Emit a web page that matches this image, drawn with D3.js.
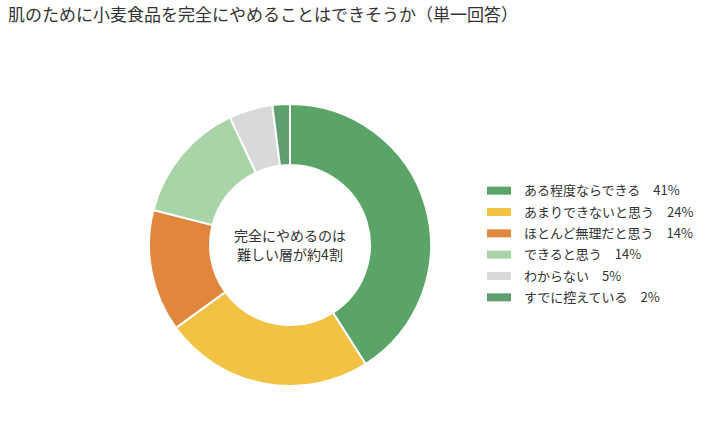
<!DOCTYPE html>
<html>
<head>
<meta charset="utf-8">
<title>小麦食品アンケート</title>
<style>
    body { margin: 0; background: #fff; }
    svg text { font-family: "Noto Sans CJK JP", "Noto Sans", sans-serif; fill: #333; }
    .chart-title { font-size: 17px; }
    .center-label { font-size: 14px; }
    .legend text { font-size: 13px; }
</style>
</head>
<body>
<div id="chart"></div>
<script src="https://d3js.org/d3.v7.min.js"></script>
<script>
    // answer categories and share (%)
    const categories = ["ある程度ならできる", "あまりできないと思う", "ほとんど無理だと思う", "できると思う", "わからない", "すでに控えている"];
    const shares = [41, 24, 14, 14, 5, 2];
    const colors = ["#5ba468", "#f2c244", "#e0873d", "#a9d4a8", "#d9d9d9", "#5f9f6f"];
    const centerLines = ["完全にやめるのは", "難しい層が約4割"];

    const width = 713, height = 429;
    const cx = 290, cy = 245, outerR = 141, innerR = 80;

    const data = categories.map((c, i) => ({ name: c, value: shares[i], color: colors[i] }));

    const svg = d3.select("#chart").append("svg")
        .attr("width", width)
        .attr("height", height);

    svg.append("text")
        .attr("class", "chart-title")
        .attr("x", 8)
        .attr("y", 21)
        .text("肌のために小麦食品を完全にやめることはできそうか（単一回答）");

    const pie = d3.pie().value(d => d.value).sort(null);
    const arc = d3.arc().innerRadius(innerR).outerRadius(outerR);

    const g = svg.append("g").attr("transform", `translate(${cx},${cy})`);

    g.selectAll("path")
        .data(pie(data))
        .enter()
        .append("path")
        .attr("d", arc)
        .attr("fill", d => d.data.color)
        .attr("stroke", "#fff")
        .attr("stroke-width", 2);

    // text in the hole
    g.selectAll(".center-label")
        .data(centerLines)
        .enter()
        .append("text")
        .attr("class", "center-label")
        .attr("text-anchor", "middle")
        .attr("x", 0)
        .attr("y", (d, i) => -4 + i * 19)
        .text(d => d);

    // legend
    const rowY = d3.scaleBand()
        .domain(categories)
        .range([180, 308]);

    const legend = svg.append("g").attr("class", "legend");
    const rows = legend.selectAll("g")
        .data(data)
        .enter()
        .append("g")
        .attr("transform", d => `translate(487,${rowY(d.name) + rowY.bandwidth() / 2})`);

    rows.append("rect")
        .attr("x", 0)
        .attr("y", -4)
        .attr("width", 24)
        .attr("height", 8)
        .attr("fill", d => d.color);

    rows.append("text")
        .attr("x", 37)
        .attr("y", 0)
        .attr("dy", "0.35em")
        .text(d => d.name + "\u3000" + d.value + "%");
</script>
</body>
</html>
